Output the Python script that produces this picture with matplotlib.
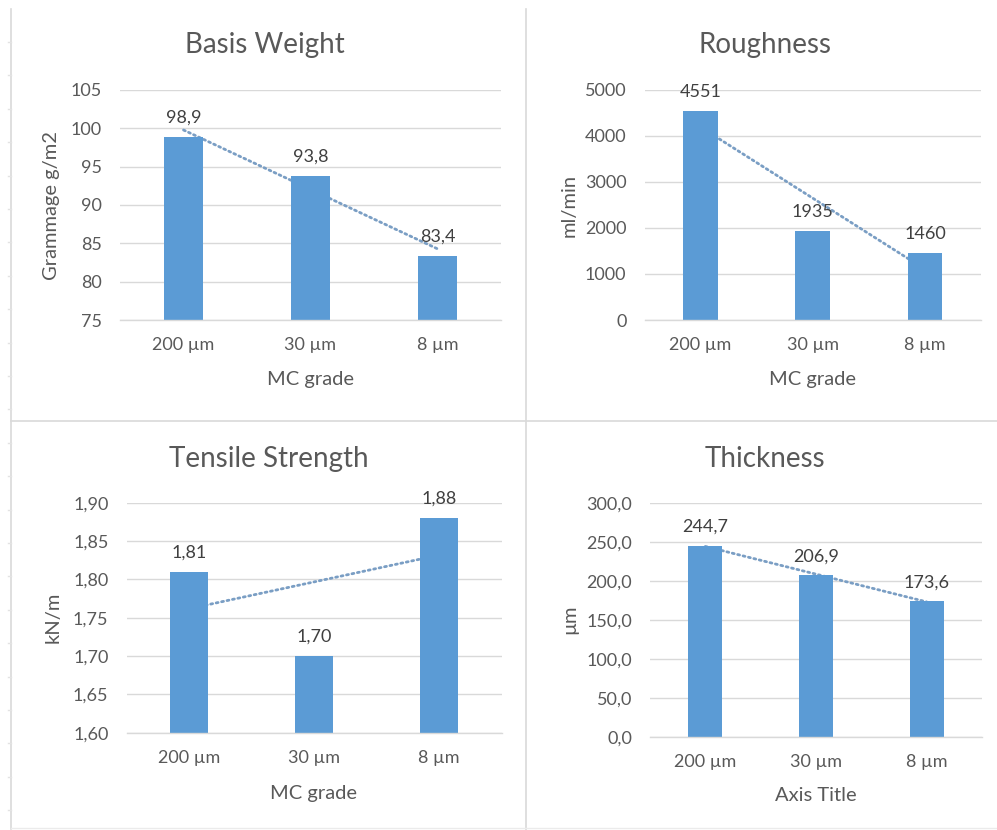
import numpy as np
import matplotlib
matplotlib.use("Agg")
import matplotlib.pyplot as plt
from matplotlib.lines import Line2D

plt.rcParams['font.family'] = ['Lato', 'DejaVu Sans']

# ---- data ----
categories = ["200 µm", "30 µm", "8 µm"]
basis_weight = [98.9, 93.8, 83.4]
roughness = [4551, 1935, 1460]
tensile_strength = [1.81, 1.70, 1.88]
thickness = [244.7, 206.9, 173.6]

titles = ["Basis Weight", "Roughness", "Tensile Strength", "Thickness"]
y_titles = ["Grammage g/m2", "ml/min", "kN/m", "µm"]
x_titles = ["MC grade", "MC grade", "MC grade", "Axis Title"]
y_ticks_basis = [75, 80, 85, 90, 95, 100, 105]
y_ticks_rough = [0, 1000, 2000, 3000, 4000, 5000]
y_ticks_tensile = [1.60, 1.65, 1.70, 1.75, 1.80, 1.85, 1.90]
y_ticks_thick = [0, 50, 100, 150, 200, 250, 300]

W, H = 997, 830
BAR = "#5B9BD5"
TREND = "#7A9EC4"
GRID = "#D9D9D9"
TXT = "#595959"
LBL = "#404040"

fig = plt.figure(figsize=(W / 100, H / 100), dpi=100)
fig.patch.set_facecolor("white")


def comma(fmt):
    return lambda v: format(v, fmt).replace(".", ",")


panels = [
    # values, yticks, tick format, label format, plot box (l, t, r, b), title pos, ylabel x, xlabel y
    (basis_weight, y_ticks_basis, comma(".0f"), comma(".1f"),
     (120, 90, 501, 320), (265, 53), 52, 380),
    (roughness, y_ticks_rough, comma(".0f"), comma(".0f"),
     (644.5, 90, 981, 320), (765, 53), 569, 380),
    (tensile_strength, y_ticks_tensile, comma(".2f"), comma(".2f"),
     (126.5, 502.7, 501.5, 732.7), (269, 467), 53, 793),
    (thickness, y_ticks_thick, comma(".1f"), comma(".1f"),
     (650, 502.7, 982, 736.7), (765, 467), 570, 795),
]

for i, (vals, yt, tfmt, lfmt, box, tpos, ylx, xly) in enumerate(panels):
    l, t, r, b = box
    ax = fig.add_axes([l / W, 1 - b / H, (r - l) / W, (b - t) / H])
    x = np.arange(len(categories))

    # linear trendline behind the bars
    k, c = np.polyfit(x, vals, 1)
    ax.plot([x[0], x[-1]], [c + k * x[0], c + k * x[-1]], color=TREND,
            lw=2.0, linestyle=(0, (0.7, 1.3)), dash_capstyle="round", zorder=1)

    ax.bar(x, vals, width=0.31, color=BAR, zorder=2)
    for xi, v in zip(x, vals):
        ax.annotate(lfmt(v), (xi, v), xytext=(0, 8), textcoords="offset points",
                    ha="center", va="bottom", fontsize=13, color=LBL,
                    annotation_clip=False)

    ax.set_xlim(-0.5, len(categories) - 0.5)
    ax.set_ylim(yt[0], yt[-1])
    ax.set_yticks(yt)
    ax.set_yticklabels([tfmt(v) for v in yt])
    ax.set_xticks(x)
    ax.set_xticklabels(categories)
    ax.grid(axis="y", color=GRID, lw=1.0, zorder=0)
    ax.set_axisbelow(True)
    for s in ["top", "right", "left"]:
        ax.spines[s].set_visible(False)
    ax.spines["bottom"].set_color(GRID)
    ax.spines["bottom"].set_linewidth(1.0)
    ax.tick_params(axis="both", length=0, labelsize=13, colors=TXT)
    ax.tick_params(axis="y", pad=13)
    ax.tick_params(axis="x", pad=12.5)

    fig.text(tpos[0] / W, 1 - tpos[1] / H, titles[i], ha="center", va="baseline",
             fontsize=20, color=TXT)
    fig.text(ylx / W, 1 - (t + b) / 2 / H, y_titles[i], rotation=90,
             ha="center", va="center", fontsize=14.5, color=TXT)
    fig.text((l + r) / 2 / W, 1 - xly / H, x_titles[i], ha="center",
             va="center", fontsize=14.5, color=TXT)

# sheet frame lines between the charts
frame = "#D9D9D9"
fig.add_artist(Line2D([11 / W, 11 / W], [1 - 9 / H, 1 - 829 / H], color=frame, lw=1.2))
fig.add_artist(Line2D([525.5 / W, 525.5 / W], [1 - 9 / H, 0], color=frame, lw=1.2))
fig.add_artist(Line2D([11 / W, 1], [1 - 420.5 / H, 1 - 420.5 / H], color=frame, lw=1.2))
fig.add_artist(Line2D([11 / W, 1], [1 - 828 / H, 1 - 828 / H], color="#EBEBEB", lw=1.0))
for yy in np.arange(42, 815, 33.4):
    fig.add_artist(Line2D([7.5 / W, 11 / W], [1 - yy / H, 1 - yy / H], color="#E3E3E3", lw=1.0))

fig.savefig("out.png", dpi=100, facecolor="white")
